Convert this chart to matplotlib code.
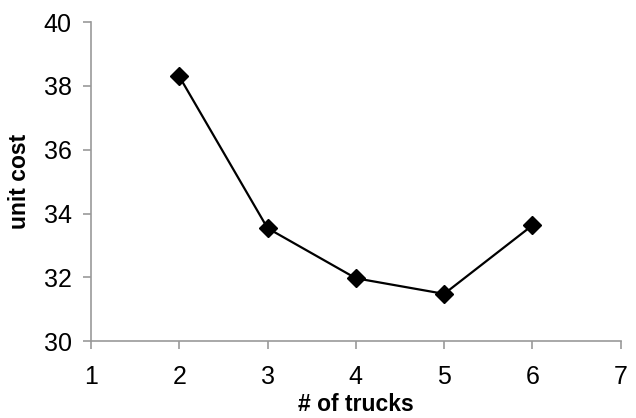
import matplotlib
matplotlib.use('agg')
import matplotlib.pyplot as plt

# dados do gráfico
trucks = [2, 3, 4, 5, 6]
unit_cost = [38.3, 33.54, 31.97, 31.48, 33.63]
x_ticks = [1, 2, 3, 4, 5, 6, 7]
y_ticks = [30, 32, 34, 36, 38, 40]

plt.rcParams['font.family'] = ['Liberation Sans', 'DejaVu Sans']

fig = plt.figure(figsize=(6.36, 4.18), dpi=100)
ax = fig.add_axes([0.143, 0.184, 0.833, 0.763])

ax.plot(trucks, unit_cost, color='black', linewidth=1.6,
        marker='D', markersize=9, markerfacecolor='black', markeredgecolor='black')

ax.set_xlim(1, 7)
ax.set_ylim(30, 40)
ax.set_xticks(x_ticks)
ax.set_yticks(y_ticks)

for s in ['top', 'right']:
    ax.spines[s].set_visible(False)
for s in ['left', 'bottom']:
    ax.spines[s].set_color('#999999')
    ax.spines[s].set_linewidth(1.2)

ax.tick_params(axis='x', length=6, width=1.2, color='#999999', labelsize=18, pad=11)
ax.tick_params(axis='y', length=6, width=1.2, color='#999999', labelsize=18, pad=8)

ax.set_xlabel('# of trucks', fontsize=16.5, fontweight='bold', labelpad=3)
ax.set_ylabel('unit cost', fontsize=16.5, fontweight='bold', labelpad=9)

fig.savefig('out.png', dpi=100)
